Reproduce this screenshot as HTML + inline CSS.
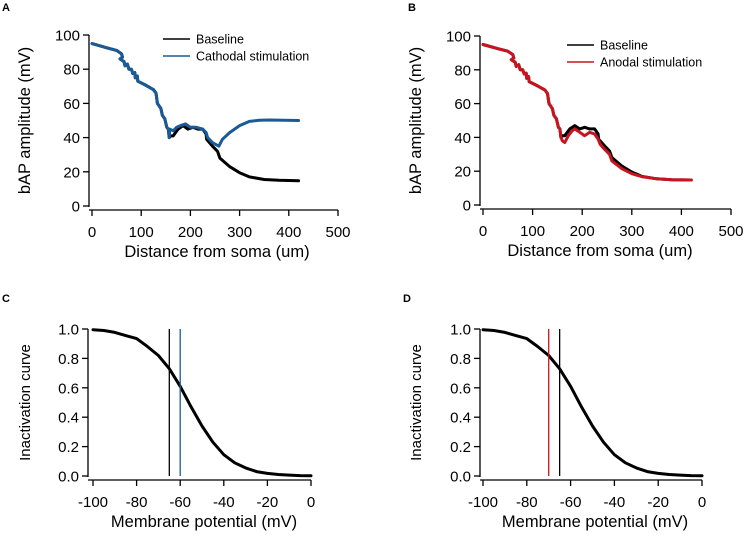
<!DOCTYPE html>
<html><head><meta charset="utf-8"><style>
html,body{margin:0;padding:0;background:#fff;}
svg{display:block;font-family:"Liberation Sans",sans-serif;}
</style></head><body>
<svg id="fig" width="747" height="537" viewBox="0 0 747 537"></svg>
<script>
// Panel A/B data: [distance, amplitude]
const sharedTrunk=[[0,95],[30,92.5],[50,91],[60,89],[62,87],[57,86],[62,85],[65,84.5],[67,82],[72,83],[75,80],[80,80],[83,77.5],[87,78],[88,75],[92,76],[93,73],[110,70.5],[125,68],[130,66],[133,60],[140,57],[143,53],[148,51],[152,46],[155,45],[157,40]];
const baselineTail=[[160,41],[165,41],[170,43],[175,45],[185,47],[195,45],[205,46],[215,45],[225,45],[232,42],[233,39],[245,35],[255,32],[260,28],[280,23],[300,19.5],[320,17],[350,15.5],[380,15],[420,14.8]];
const cathodalTail=[[158,45],[165,44],[172,46],[180,47],[190,48],[200,46],[212,46],[225,45],[232,43],[235,40],[245,37],[258,35],[265,39],[280,43],[300,47],[320,49.5],[340,50.2],[360,50.3],[420,50]];
const anodalTail=[[160,38],[165,37],[172,41],[180,44],[185,45],[195,43],[205,41],[215,43],[225,42],[232,39],[236,36],[245,33],[255,30],[260,26],[280,21.5],[300,18.5],[320,16.8],[350,15.5],[380,15],[420,14.8]];
const distTicks=[0,100,200,300,400,500];
const ampTicks=[0,20,40,60,80,100];
// Panel C/D data: [voltage, inactivation]
const inactCurve=[[-100,0.995],[-95,0.99],[-90,0.977],[-85,0.955],[-80,0.935],[-75,0.88],[-70,0.82],[-65,0.73],[-60,0.61],[-55,0.47],[-50,0.34],[-45,0.23],[-40,0.145],[-35,0.09],[-30,0.055],[-25,0.03],[-20,0.018],[-15,0.01],[-10,0.006],[-5,0.003],[0,0.002]];
const cBaselineV=-65, cCathodalV=-60;
const dBaselineV=-65, dAnodalV=-70;
const vTicks=[-100,-80,-60,-40,-20,0];
const inactTicks=[0,0.2,0.4,0.6,0.8,1.0];

const NS="http://www.w3.org/2000/svg";
const svg=document.getElementById('fig');
function mk(tag,attrs,parent){const e=document.createElementNS(NS,tag);for(const k in attrs)e.setAttribute(k,attrs[k]);(parent||svg).appendChild(e);return e;}
function txt(s,attrs,parent){const e=mk('text',attrs,parent);e.textContent=s;return e;}

function panel(cfg){
  const g=mk('g',{});
  
  
  const sx=v=>cfg.x0+(v-cfg.xmin)/(cfg.xmax-cfg.xmin)*(cfg.x1-cfg.x0);
  const sy=v=>cfg.y0+(v-cfg.ymin)/(cfg.ymax-cfg.ymin)*(cfg.y1-cfg.y0);
  const lab=txt(cfg.letter,{x:cfg.lx,y:cfg.ly,'font-size':11,'font-weight':'bold'},g);
  
  // y axis
  const ya=mk('g',{},g);
  mk('line',{x1:cfg.ax,y1:sy(cfg.yt[0])+1,x2:cfg.ax,y2:sy(cfg.yt[cfg.yt.length-1]),stroke:'#000','stroke-width':1.3},ya);
  cfg.yt.forEach(t=>{mk('line',{x1:cfg.ax-6,x2:cfg.ax,y1:sy(t),y2:sy(t),stroke:'#000','stroke-width':1.3},ya);
    const l=txt(cfg.yfmt(t),{x:cfg.ax-9,y:sy(t)+5.5,'font-size':15,'text-anchor':'end'},ya);
    });
  // x axis
  const xa=mk('g',{},g);
  mk('line',{x1:cfg.ax,y1:cfg.ay,x2:sx(cfg.xt[cfg.xt.length-1]),y2:cfg.ay,stroke:'#000','stroke-width':1.3},xa);
  cfg.xt.forEach(t=>{mk('line',{x1:sx(t),x2:sx(t),y1:cfg.ay,y2:cfg.ay+6,stroke:'#000','stroke-width':1.3},xa);
    const l=txt(String(t),{x:sx(t),y:cfg.ay+27,'font-size':15,'text-anchor':'middle'},xa);
    });
  const xt=txt(cfg.xtitle,{x:cfg.xtx,y:cfg.ay+47,'font-size':16.5,'text-anchor':'middle'},g);
  
  const ytx=cfg.ytx, yty=(cfg.y0+cfg.y1)/2;
  const yt=txt(cfg.ytitle,{x:ytx,y:yty,'font-size':cfg.ytsize,'text-anchor':'middle',transform:`rotate(-90 ${ytx} ${yty})`},g);
  
  return {g,sx,sy};
}
function series(p,pts,color,w,name){
  const e=mk('polyline',{points:pts.map(d=>p.sx(d[0]).toFixed(1)+','+p.sy(d[1]).toFixed(1)).join(' '),fill:'none',stroke:color,'stroke-width':w,'stroke-linejoin':'round','stroke-linecap':'round'},p.g);
  
}
function vline(p,v,color,name){
  const e=mk('line',{x1:p.sx(v),x2:p.sx(v),y1:p.sy(1),y2:p.sy(0),stroke:color,'stroke-width':1.3},p.g);
  
}
function legend(p,x,y,items){
  const g=mk('g',{},p.g);
  items.forEach((it,i)=>{const eg=mk('g',{},g);
    mk('line',{x1:x,x2:x+27,y1:y+i*17,y2:y+i*17,stroke:it[1],'stroke-width':1.5},eg);
    txt(it[0],{x:x+33,y:y+i*17+4.5,'font-size':12.5},eg);});
}
const yfA=t=>String(t), yfC=t=>t.toFixed(1);
// A
const pA=panel({name:'panel-a',letter:'A',lx:2,ly:11,x0:92,x1:338,xmin:0,xmax:500,y0:206,y1:35,ymin:0,ymax:100,ax:89,ay:210,xt:distTicks,yt:ampTicks,yfmt:yfA,xtitle:'Distance from soma (um)',xtx:217,ytitle:'bAP amplitude (mV)',ytx:30,ytsize:16.5});
series(pA,sharedTrunk.concat(baselineTail),'#000',3,'baseline-line');
series(pA,sharedTrunk.concat(cathodalTail),'#1a5a96',3,'cathodal-line');
legend(pA,163,39,[['Baseline','#000'],['Cathodal stimulation','#1a5a96']]);
// B
const pB=panel({name:'panel-b',letter:'B',lx:408,ly:11,x0:483,x1:731,xmin:0,xmax:500,y0:205,y1:36,ymin:0,ymax:100,ax:480,ay:209,xt:distTicks,yt:ampTicks,yfmt:yfA,xtitle:'Distance from soma (um)',xtx:600,ytitle:'bAP amplitude (mV)',ytx:421,ytsize:16.5});
series(pB,sharedTrunk.concat(baselineTail),'#000',3,'baseline-line');
series(pB,sharedTrunk.concat(anodalTail),'#c8141e',3,'anodal-line');
legend(pB,567,45,[['Baseline','#000'],['Anodal stimulation','#c8141e']]);
// C
const pC=panel({name:'panel-c',letter:'C',lx:2,ly:302,x0:93,x1:311,xmin:-100,xmax:0,y0:476,y1:329,ymin:0,ymax:1,ax:88,ay:480,xt:vTicks,yt:inactTicks,yfmt:yfC,xtitle:'Membrane potential (mV)',xtx:204,ytitle:'Inactivation curve',ytx:30,ytsize:15});
series(pC,inactCurve,'#000',3,'inactivation-curve');
vline(pC,cBaselineV,'#000','baseline-vline');
vline(pC,cCathodalV,'#1a5a96','cathodal-vline');
// D
const pD=panel({name:'panel-d',letter:'D',lx:403,ly:302,x0:483,x1:702,xmin:-100,xmax:0,y0:476,y1:329,ymin:0,ymax:1,ax:480,ay:480,xt:vTicks,yt:inactTicks,yfmt:yfC,xtitle:'Membrane potential (mV)',xtx:595,ytitle:'Inactivation curve',ytx:421,ytsize:15});
series(pD,inactCurve,'#000',3,'inactivation-curve');
vline(pD,dAnodalV,'#c8141e','anodal-vline');
vline(pD,dBaselineV,'#000','baseline-vline');
</script>
</body></html>
